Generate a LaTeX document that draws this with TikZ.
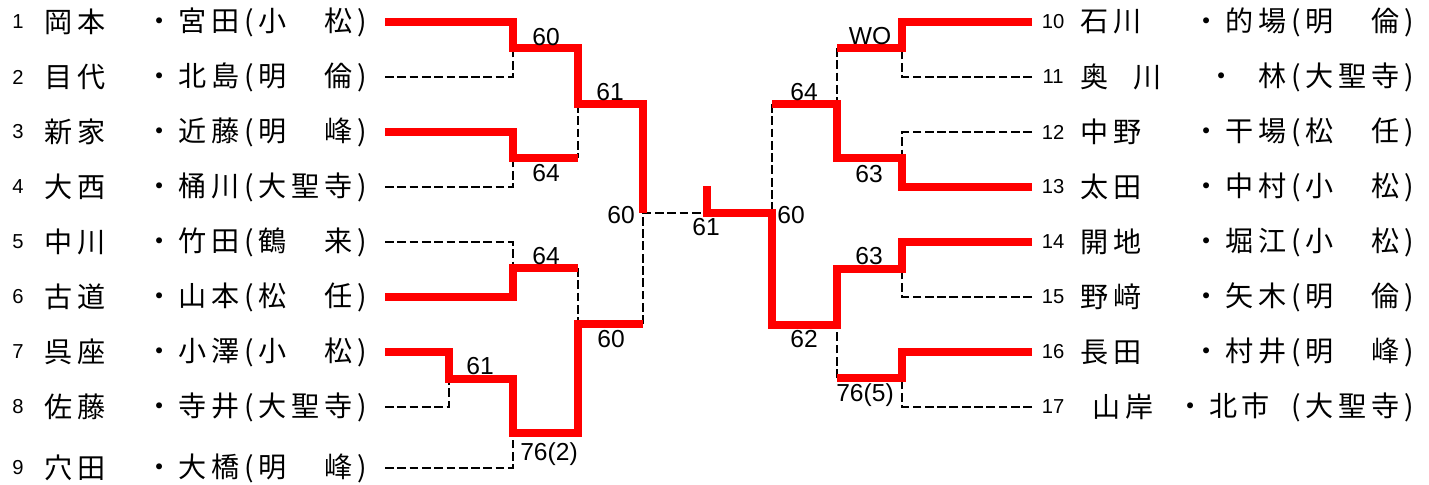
\documentclass[tikz,border=0pt]{standalone}
\usepackage{fontspec}
\setmainfont{Liberation Sans}
\newfontfamily\jpfont{Noto Sans CJK JP}[LetterSpace=17]

\begin{document}
\begin{tikzpicture}[x=0.02cm,y=-0.02cm,
    win/.style={draw=red,line width=4.3pt},
    lose/.style={draw=black,line width=1.5pt,dash pattern=on 5pt off 2pt},
    num/.style={font=\fontsize{11.5}{12}\selectfont,inner sep=0pt},
    sei/.style={font=\fontsize{16}{18}\jpfont,inner sep=0pt,anchor=west},
    mei/.style={font=\fontsize{16}{18}\jpfont,inner sep=0pt,anchor=east},
    score/.style={font=\fontsize{14}{16}\selectfont,inner sep=0pt}]
   \useasboundingbox (0,0) rectangle (1429,484);
   % left block
   \foreach \i/\y/\sei/\mei in
     {1/22/岡本/{・宮田(小　松)},
      2/77/目代/{・北島(明　倫)},
      3/132/新家/{・近藤(明　峰)},
      4/187/大西/{・桶川(大聖寺)},
      5/242/中川/{・竹田(鶴　来)},
      6/297/古道/{・山本(松　任)},
      7/352/呉座/{・小澤(小　松)},
      8/407/佐藤/{・寺井(大聖寺)},
      9/468/穴田/{・大橋(明　峰)}
     }
   {
     \node[num] (n\i) at (18,\y) {\i};
     \node[sei] (s\i) at (44,\y) {\sei};
     \node[mei] (g\i) at (367,\y) {\mei};
     \coordinate (e\i) at (385,\y);
   }
   % right block
   \foreach \i/\y/\sx/\sei/\mei in
     {10/22/1080/石川/{・的場(明　倫)},
      11/77/1080/{奥\hspace{14pt}川}/{・\hspace{13pt}林(大聖寺)},
      12/132/1080/中野/{・干場(松　任)},
      13/187/1080/太田/{・中村(小　松)},
      14/242/1080/開地/{・堀江(小　松)},
      15/297/1080/野﨑/{・矢木(明　倫)},
      16/352/1080/長田/{・村井(明　峰)},
      17/407/1092/山岸/{・北市\hspace{12pt}(大聖寺)}
     }
   {
     \node[num] (n\i) at (1053,\y) {\i};
     \node[sei] (s\i) at (\sx,\y) {\sei};
     \node[mei] (g\i) at (1414,\y) {\mei};
     \coordinate (e\i) at (1032,\y);
   }
   % match points
   \coordinate (m12) at (513,48);
   \coordinate (m34) at (513,158);
   \coordinate (m1234) at (578,104);
   \coordinate (m56) at (513,268);
   \coordinate (m78) at (449,379);
   \coordinate (m789) at (513,433);
   \coordinate (m56789) at (578,324);
   \coordinate (mL) at (643,213);
   \coordinate (fin) at (707,213);
   \coordinate (top) at (707,186);
   \coordinate (mR) at (772,213);
   \coordinate (m1013) at (837,104);
   \coordinate (m1417) at (837,325);
   \coordinate (m1011) at (902,48);
   \coordinate (m1213) at (902,158);
   \coordinate (m1415) at (902,269);
   \coordinate (m1617) at (902,378);
   % losing lines
   \draw[lose] (e2) -| (m12);
   \draw[lose] (e4) -| (m34);
   \draw[lose] (m1234) -- (m1234 |- m34);
   \draw[lose] (e5) -| (m56);
   \draw[lose] (m56 -| m1234) -- (m56789);
   \draw[lose] (e8) -| (m78);
   \draw[lose] (e9) -| (m789);
   \draw[lose] (mL |- m56789) -- (mL) -- (fin);
   \draw[lose] (e11) -| (m1011);
   \draw[lose] (e12) -| (m1213);
   \draw[lose] (m1011 -| m1013) -- (m1013);
   \draw[lose] (m1013 -| mR) -- (mR);
   \draw[lose] (e15) -| (m1415);
   \draw[lose] (e17) -| (m1617);
   \draw[lose] (m1617 -| m1417) -- (m1417);
   % winning lines
   \draw[win] (e1) -| (m12) -| (m1234) -| (mL);
   \draw[win] (e3) -| (m34) -- (m34 -| m1234);
   \draw[win] (e6) -| (m56) -- (m56 -| m1234);
   \draw[win] (e7) -| (m78) -| (m789) -| (m56789) -- (m56789 -| mL);
   \draw[win] (e10) -| (m1011) -- (m1011 -| m1013);
   \draw[win] (e13) -| (m1213) -| (m1013) -- (m1013 -| mR);
   \draw[win] (e16) -| (m1617) -- (m1617 -| m1417);
   \draw[win] (e14) -| (m1415) -| (m1417) -| (mR) -- (fin) -- (top);
   % scores
   \node[score] (sc12) at (546,37) {60};
   \node[score] (sc34) at (546,173) {64};
   \node[score] (sc1234) at (610,92) {61};
   \node[score] (sc56) at (546,256) {64};
   \node[score] (sc78) at (480,366) {61};
   \node[score] (sc789) at (549,454) {76(2)};
   \node[score] (sc59) at (611,339) {60};
   \node[score] (scL) at (621,215) {60};
   \node[score] (scF) at (706,227) {61};
   \node[score] (scR) at (791,215) {60};
   \node[score] (sc1013) at (804,92) {64};
   \node[score] (sc1011) at (870,36) {WO};
   \node[score] (sc1213) at (869,174) {63};
   \node[score] (sc1415) at (869,256) {63};
   \node[score] (sc1417) at (804,339) {62};
   \node[score] (sc1617) at (865,395) {76(5)};
\end{tikzpicture}
\end{document}
